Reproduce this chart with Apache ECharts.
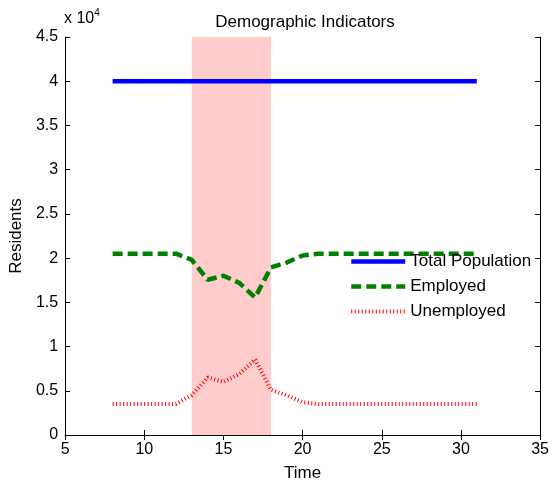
<!DOCTYPE html>
<html>
<head>
<meta charset="utf-8">
<script src="https://cdn.jsdelivr.net/npm/echarts@6/dist/echarts.min.js"></script>
<style>
  html, body { margin: 0; padding: 0; background: #fff; }
  #chart { width: 552px; height: 487px; }
</style>
</head>
<body>
<div id="chart"></div>
<script>
// time steps
const time = [8, 9, 10, 11, 12, 13, 14, 15, 16, 17, 18, 19, 20, 21, 22, 23, 24, 25, 26, 27, 28, 29, 30, 31];
const totalPopulation = [40000, 40000, 40000, 40000, 40000, 40000, 40000, 40000, 40000, 40000, 40000, 40000,
  40000, 40000, 40000, 40000, 40000, 40000, 40000, 40000, 40000, 40000, 40000, 40000];
const employed = [20500, 20500, 20500, 20500, 20500, 19800, 17550, 18000, 17200, 15550, 18950, 19500,
  20300, 20500, 20500, 20500, 20500, 20500, 20500, 20500, 20500, 20500, 20500, 20500];
const unemployed = [3500, 3500, 3500, 3500, 3500, 4500, 6500, 6000, 6900, 8550, 5100, 4500,
  3700, 3500, 3500, 3500, 3500, 3500, 3500, 3500, 3500, 3500, 3500, 3500];
const shadeRange = [13, 18];
const yTicks = ['0', '0.5', '1', '1.5', '2', '2.5', '3', '3.5', '4', '4.5'];

const font = 'Arial, "Liberation Sans", Helvetica, sans-serif';
const pairs = (ys) => time.map((t, i) => [t, ys[i]]);

const blueLine = { color: '#0000ff', width: 4.5, type: 'solid' };
const greenLine = { color: '#008000', width: 4.5, type: [10, 5] };
const redLine = { color: '#ff0000', width: 4, type: [1, 2.5] };

const chart = echarts.init(document.getElementById('chart'));

const frameAxis = {
  axisLine: { show: true, lineStyle: { color: '#000', width: 1 } },
  axisTick: { show: true, inside: true, length: 5, lineStyle: { color: '#000' } },
  splitLine: { show: false }
};

chart.setOption({
  animation: false,
  title: {
    text: 'Demographic Indicators',
    left: 300,
    textAlign: 'center',
    top: 9,
    textStyle: { fontFamily: font, fontSize: 17, fontWeight: 'normal', color: '#000' }
  },
  graphic: [{
    type: 'text',
    left: 64,
    top: 8,
    style: {
      text: '{a|x 10}{b|4}',
      rich: {
        a: { fontFamily: font, fontSize: 16, fill: '#000', verticalAlign: 'bottom' },
        b: { fontFamily: font, fontSize: 10, fill: '#000', verticalAlign: 'top', padding: [0, 0, 9, 0] }
      }
    }
  }],
  grid: { left: 65, right: 9, top: 37, bottom: 49, containLabel: false },
  legend: {
    orient: 'vertical',
    left: 349,
    top: 253,
    padding: 0,
    itemWidth: 54,
    itemHeight: 12,
    itemGap: 8,
    backgroundColor: 'transparent',
    itemStyle: { opacity: 0 },
    textStyle: { fontFamily: font, fontSize: 17, color: '#000' },
    data: [
      { name: 'Total Population', lineStyle: blueLine },
      { name: 'Employed', lineStyle: greenLine },
      { name: 'Unemployed', lineStyle: redLine }
    ]
  },
  xAxis: [
    Object.assign({}, frameAxis, {
      type: 'value', min: 5, max: 35, interval: 5, position: 'bottom',
      name: 'Time', nameLocation: 'middle', nameGap: 30,
      nameTextStyle: { fontFamily: font, fontSize: 17, color: '#000' },
      axisLabel: { fontFamily: font, fontSize: 16, color: '#000', margin: 7 }
    }),
    Object.assign({}, frameAxis, {
      type: 'value', min: 5, max: 35, interval: 5, position: 'top',
      axisLabel: { show: false }
    })
  ],
  yAxis: [
    Object.assign({}, frameAxis, {
      type: 'value', min: 0, max: 45000, interval: 5000, position: 'left',
      name: 'Residents', nameLocation: 'middle', nameGap: 34, nameRotate: 90,
      nameTextStyle: { fontFamily: font, fontSize: 17, color: '#000' },
      axisLabel: {
        fontFamily: font, fontSize: 16, color: '#000', margin: 7,
        formatter: (v) => yTicks[Math.round(v / 5000)]
      }
    }),
    Object.assign({}, frameAxis, {
      type: 'value', min: 0, max: 45000, interval: 5000, position: 'right',
      axisLabel: { show: false }
    })
  ],
  series: [
    {
      name: 'Total Population',
      type: 'line',
      data: pairs(totalPopulation),
      symbol: 'none',
      z: 3,
      lineStyle: blueLine,
      itemStyle: { color: '#0000ff' },
      markArea: {
        silent: true,
        itemStyle: { color: '#ffcccc' },
        data: [[{ xAxis: shadeRange[0] }, { xAxis: shadeRange[1] }]]
      }
    },
    {
      name: 'Employed',
      type: 'line',
      data: pairs(employed),
      symbol: 'none',
      z: 3,
      lineStyle: greenLine,
      itemStyle: { color: '#008000' }
    },
    {
      name: 'Unemployed',
      type: 'line',
      data: pairs(unemployed),
      symbol: 'none',
      z: 3,
      lineStyle: redLine,
      itemStyle: { color: '#ff0000' }
    }
  ]
});
</script>
</body>
</html>
